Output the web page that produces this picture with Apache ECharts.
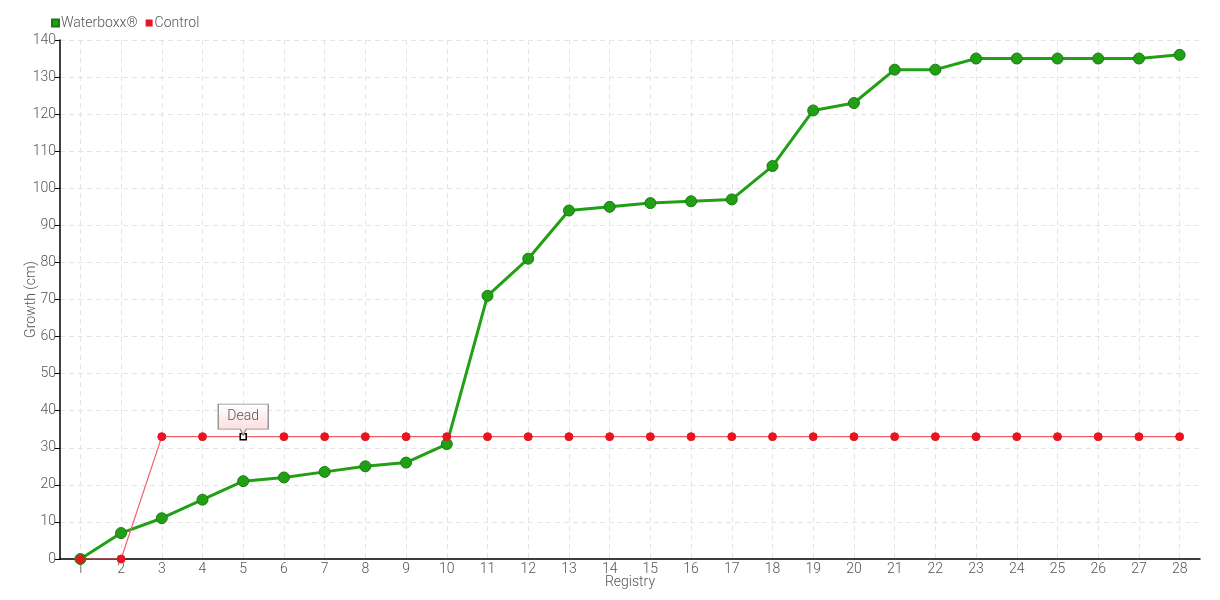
<!DOCTYPE html>
<html><head><meta charset="utf-8">
<script src="https://cdn.jsdelivr.net/npm/echarts@6/dist/echarts.min.js"></script>
<style>html,body{margin:0;padding:0;background:#fff}#c{width:1220px;height:600px}</style>
</head><body><div id="c"></div>
<script>
var categories = ['1','2','3','4','5','6','7','8','9','10','11','12','13','14','15','16','17','18','19','20','21','22','23','24','25','26','27','28'];
var waterboxx = [0,7,11,16,21,22,23.5,25,26,31,71,81,94,95,96,96.5,97,106,121,123,132,132,135,135,135,135,135,136];
var control = [0,0,33,33,33,33,33,33,33,33,33,33,33,33,33,33,33,33,33,33,33,33,33,33,33,33,33,33];
var deadIndex = 4;
var deadLabel = 'Dead';

var FONT = 'Roboto, sans-serif';
var FW = 300;
var chart = echarts.init(document.getElementById('c'));
var controlData = control.map(function(v, i){
  if (i === deadIndex) return {value: v, symbol: 'rect', symbolSize: 6, itemStyle: {color: '#fff', borderColor: '#000', borderWidth: 1.5}};
  return v;
});
chart.setOption({
  animation: false,
  textStyle: {fontFamily: FONT, fontWeight: FW},
  legend: {left: 46, top: 11, itemWidth: 7, itemHeight: 7, itemGap: 8, icon: 'rect',
    textStyle: {fontFamily: FONT, fontWeight: FW, fontSize: 14, color: '#555', padding: [0,0,0,-3]},
    data: ['Waterboxx®', 'Control']},
  grid: {left: 60, right: 20, top: 40, bottom: 41, containLabel: false, outerBoundsMode: 'none'},
  xAxis: {type: 'category', data: categories, boundaryGap: true,
    name: 'Registry', nameLocation: 'middle', nameGap: 16, nameMoveOverlap: false,
    nameTextStyle: {fontFamily: FONT, fontWeight: FW, fontSize: 14, color: '#555'},
    axisLine: {lineStyle: {color: '#000', width: 1.5}},
    axisTick: {alignWithLabel: true, length: 5, lineStyle: {color: '#000'}},
    axisLabel: {fontFamily: FONT, fontWeight: FW, fontSize: 14, color: '#555', margin: 3},
    splitLine: {show: true, alignWithLabel: true, lineStyle: {color: '#e4e4e4', type: [5,4]}}},
  yAxis: {type: 'value', min: 0, max: 140, interval: 10,
    name: 'Growth (cm)', nameLocation: 'middle', nameGap: 22, nameMoveOverlap: false,
    nameTextStyle: {fontFamily: FONT, fontWeight: FW, fontSize: 14, color: '#555'},
    axisLine: {show: true, lineStyle: {color: '#000', width: 1.5}},
    axisTick: {show: true, length: 5, lineStyle: {color: '#000'}},
    axisLabel: {fontFamily: FONT, fontWeight: FW, fontSize: 14, color: '#555', margin: 4},
    splitLine: {show: true, lineStyle: {color: '#e4e4e4', type: [5,4]}}},
  series: [
    {name: 'Waterboxx®', type: 'line', data: waterboxx, symbol: 'circle', symbolSize: 11,
     lineStyle: {color: '#22a015', width: 3},
     itemStyle: {color: '#22a015', borderColor: '#187a10', borderWidth: 1}},
    {name: 'Control', type: 'line', data: controlData, symbol: 'circle', symbolSize: 8,
     lineStyle: {color: '#f0606a', width: 1.2},
     itemStyle: {color: '#e8141f', borderColor: '#e8141f'},
     markPoint: {
       symbol: 'path://M0,0 L50,0 L50,25 L28,25 L25,31 L22,25 L0,25 Z',
       symbolSize: [50, 31], symbolKeepAspect: false, symbolOffset: [0, -17],
       itemStyle: {color: {type: 'linear', x: 0, y: 0, x2: 0, y2: 1, colorStops: [{offset: 0, color: '#ffffff'}, {offset: 1, color: '#fcd6d6'}]}, borderColor: '#888', borderWidth: 1},
       label: {show: true, formatter: deadLabel, fontFamily: FONT, fontWeight: FW, fontSize: 14, color: '#555', offset: [0, -3]},
       data: [{coord: [deadIndex, control[deadIndex]], value: deadLabel}]
     }}
  ]
});
</script></body></html>
